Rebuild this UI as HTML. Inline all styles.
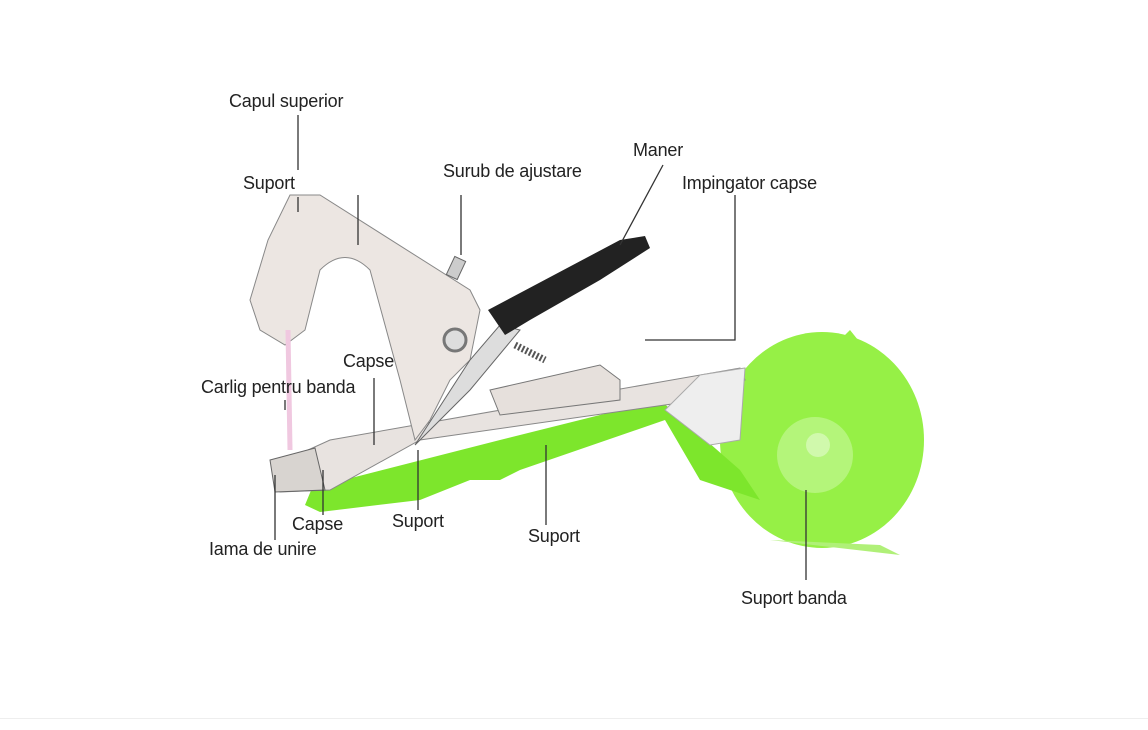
<!DOCTYPE html>
<html><head><style>
body{margin:0;background:#fff;width:1148px;height:729px;overflow:hidden;position:relative;font-family:"Liberation Sans",Arial,sans-serif}
.l{position:absolute;font-size:18px;color:#222;white-space:nowrap;letter-spacing:-0.2px}
.ft{position:absolute;left:0;top:718px;width:1148px;height:11px;border-top:1px solid #eee;background:#fff}
</style></head><body>
<svg width="1148" height="729" style="position:absolute;left:0;top:0">
<ellipse cx="822" cy="440" rx="102" ry="108" fill="#96f046"/>
<path d="M835 345 L850 330 L862 345 L860 360 Z" fill="#96f046"/>
<path d="M770 540 L900 555 L880 545 Z" fill="#b0f078"/>
<circle cx="815" cy="455" r="38" fill="#b4f57a"/>
<circle cx="818" cy="445" r="12" fill="#d0f9ac"/>
<path d="M305 505 L312 488 L500 440 L660 400 L740 470 L760 500 L700 480 L665 420 L520 470 L500 480 L470 480 L420 500 L320 512 Z" fill="#7de62c"/>
<path d="M275 465 L330 440 L740 368 L745 380 L700 400 L420 440 L330 490 L280 492 Z" fill="#e8e3e0" stroke="#888" stroke-width="1"/>
<path d="M700 375 L745 368 L740 440 L710 445 L665 410 Z" fill="#eee" stroke="#aaa"/>
<path d="M490 390 L600 365 L620 380 L620 400 L500 415 Z" fill="#e6e0dc" stroke="#777"/>
<path d="M250 300 L268 240 L290 195 L320 195 L470 290 L480 310 L470 360 L450 380 L430 420 L415 440 L400 380 L370 270 Q345 245 320 270 L305 330 L285 345 L260 330 Z" fill="#ece6e2" stroke="#888"/>
<path d="M415 445 L470 360 L500 325 L520 330 L470 390 Z" fill="#ddd" stroke="#666"/>
<circle cx="455" cy="340" r="11" fill="#ddd" stroke="#777" stroke-width="3"/>
<path d="M488 310 L620 240 L645 236 L650 248 L600 280 L530 320 L505 335 Z" fill="#222"/>
<rect x="450" y="258" width="12" height="20" fill="#ccc" stroke="#666" transform="rotate(25 456 268)"/>
<path d="M515 345 L545 360" stroke="#555" stroke-width="7" stroke-dasharray="2 2"/>
<path d="M288 330 L290 450" stroke="#f0c8e0" stroke-width="5"/>
<path d="M270 460 L315 448 L325 490 L275 492 Z" fill="#d8d4d0" stroke="#666"/>
<g stroke="#333" stroke-width="1.3" fill="none">
<path d="M298 115 V170"/><path d="M298 197 V212"/><path d="M358 195 V245"/>
<path d="M461 195 V255"/><path d="M663 165 L620 245"/>
<path d="M735 195 V340 H645"/><path d="M374 378 V445"/>
<path d="M285 400 V410"/><path d="M323 470 V515"/><path d="M275 475 V540"/>
<path d="M418 450 V510"/><path d="M546 445 V525"/><path d="M806 490 V580"/>
</g>
</svg>
<div class="l" style="left:229px;top:91px">Capul superior</div>
<div class="l" style="left:243px;top:173px">Suport</div>
<div class="l" style="left:443px;top:161px">Surub de ajustare</div>
<div class="l" style="left:633px;top:140px">Maner</div>
<div class="l" style="left:682px;top:173px">Impingator capse</div>
<div class="l" style="left:343px;top:351px">Capse</div>
<div class="l" style="left:201px;top:377px">Carlig pentru banda</div>
<div class="l" style="left:292px;top:514px">Capse</div>
<div class="l" style="left:392px;top:511px">Suport</div>
<div class="l" style="left:209px;top:539px">Iama de unire</div>
<div class="l" style="left:528px;top:526px">Suport</div>
<div class="l" style="left:741px;top:588px">Suport banda</div>
<div class="ft"></div>
</body></html>
